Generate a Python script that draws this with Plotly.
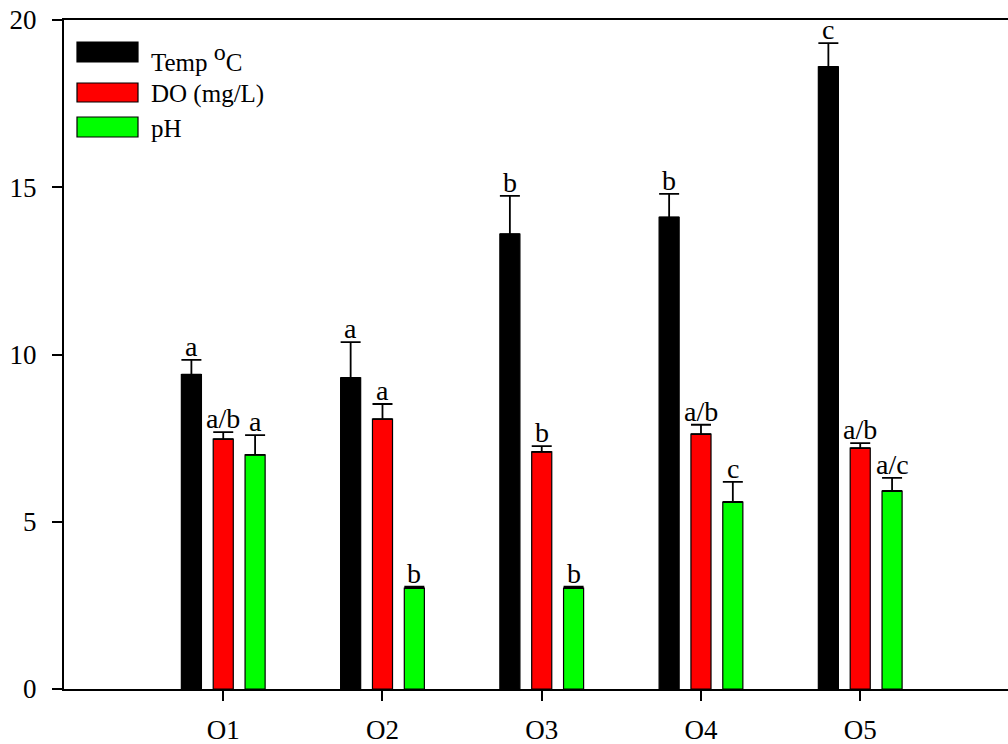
import plotly.graph_objects as go

categories = ["O1", "O2", "O3", "O4", "O5"]
temp = [9.4, 9.3, 13.6, 14.1, 18.6]
temp_err = [0.44, 1.07, 1.14, 0.70, 0.71]
do = [7.47, 8.07, 7.09, 7.62, 7.20]
do_err = [0.21, 0.45, 0.17, 0.28, 0.15]
ph = [7.0, 3.02, 3.02, 5.59, 5.92]
ph_err = [0.59, 0.04, 0.04, 0.60, 0.39]
temp_letters = ["a", "a", "b", "b", "c"]
do_letters = ["a/b", "a", "b", "a/b", "a/b"]
ph_letters = ["a", "b", "b", "c", "a/c"]

series = [
    ("Temp <sup><span style=\"font-size:24px\">o</span></sup>C", temp, temp_err, temp_letters, "#000000"),
    ("DO (mg/L)", do, do_err, do_letters, "#ff0000"),
    ("pH", ph, ph_err, ph_letters, "#00ff00"),
]

FONT = "Liberation Serif"
fig = go.Figure()
for name, vals, errs, letters, color in series:
    fig.add_trace(go.Bar(
        x=categories, y=vals, name=name,
        marker=dict(color=color, line=dict(color="black", width=1.2)),
        error_y=dict(type="data", array=errs, arrayminus=[0] * len(errs),
                     symmetric=False, color="black", thickness=1.8, width=10),
        showlegend=False,
    ))

# significance letters
offsets = [-0.2, 0.0, 0.2]
for (name, vals, errs, letters, color), off in zip(series, offsets):
    for i, (v, e, t) in enumerate(zip(vals, errs, letters)):
        fig.add_annotation(x=i + off, y=v + e, xref="x", yref="y", text=t,
                           showarrow=False, yanchor="bottom", yshift=-4,
                           font=dict(family=FONT, size=28, color="black"))

# custom legend
leg_rows = [(42, 62), (83, 102), (117, 137)]
leg_text_y = [57, 94, 128]
for (name, vals, errs, letters, color), (y0, y1), ty in zip(series, leg_rows, leg_text_y):
    fig.add_shape(type="rect", xref="paper", yref="paper",
                  x0=(77 - 64) / 944, x1=(138 - 64) / 944,
                  y0=(689 - y1) / 669, y1=(689 - y0) / 669,
                  fillcolor=color, line=dict(color="black", width=1.2))
    fig.add_annotation(xref="paper", yref="paper", x=(149 - 64) / 944,
                       y=(689 - ty) / 669, text=name, showarrow=False,
                       xanchor="left", yanchor="middle",
                       font=dict(family=FONT, size=25, color="black"))

fig.update_layout(
    width=1008, height=744,
    margin=dict(l=64, r=0, t=20, b=55),
    paper_bgcolor="white", plot_bgcolor="white",
    barmode="group", bargap=0.4, bargroupgap=0.37,
    font=dict(family=FONT, size=27, color="black"),
)
fig.update_xaxes(
    type="category", range=[-1, 4.928],
    showline=True, linecolor="black", linewidth=2, mirror=True,
    ticks="outside", ticklen=10, tickwidth=2, tickcolor="black",
    showgrid=False, zeroline=False, ticklabelstandoff=6,
    tickfont=dict(family=FONT, size=27),
)
fig.update_yaxes(
    range=[0, 20], tickvals=[0, 5, 10, 15, 20],
    showline=True, linecolor="black", linewidth=2,
    ticks="outside", ticklen=10, tickwidth=2, tickcolor="black",
    showgrid=False, zeroline=False, ticklabelstandoff=10,
    tickfont=dict(family=FONT, size=27),
)
fig.write_html("out.html", config={"displayModeBar": False},
               post_script="document.body.style.margin='0px';document.body.style.padding='0px';")
